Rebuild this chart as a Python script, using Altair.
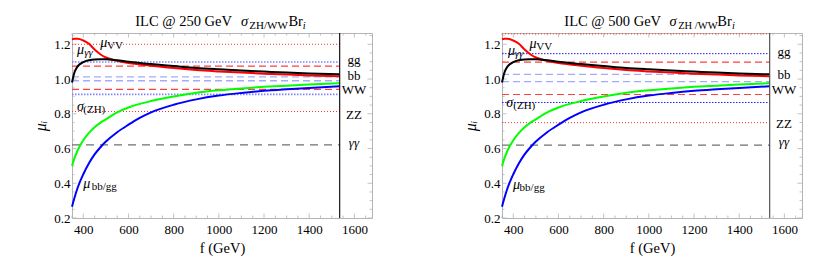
import altair as alt
import pandas as pd

# ---------------- data ----------------
F = [350, 360, 375, 400, 425, 450, 475, 500, 550, 600, 650, 700, 800, 900,
     1000, 1100, 1200, 1300, 1400, 1535]
MU_VV = [1.228, 1.232, 1.232, 1.222, 1.203, 1.170, 1.143, 1.124, 1.105, 1.092,
         1.084, 1.077, 1.063, 1.052, 1.044, 1.037, 1.031, 1.026, 1.021, 1.016]
MU_GAGA = [0.980, 1.035, 1.073, 1.097, 1.108, 1.113, 1.114, 1.114, 1.108, 1.099,
           1.092, 1.086, 1.075, 1.064, 1.056, 1.049, 1.043, 1.037, 1.032, 1.027]
SIGMA_ZH = [0.500, 0.540, 0.590, 0.648, 0.690, 0.723, 0.748, 0.768, 0.808, 0.836,
            0.857, 0.873, 0.899, 0.921, 0.935, 0.946, 0.955, 0.962, 0.968, 0.976]
MU_BBGG = [0.265, 0.312, 0.374, 0.452, 0.515, 0.566, 0.606, 0.640, 0.694, 0.737,
           0.776, 0.808, 0.852, 0.883, 0.905, 0.920, 0.932, 0.941, 0.949, 0.958]
SERIES = ["muVV", "mugaga", "sigmaZH", "mubbgg"]
SERIES_COLORS = ["#ff0000", "#000000", "#00ff00", "#0000ff"]

X_DOMAIN = [350, 1678]
Y_DOMAIN = [0.2, 1.265]
F_CUT = 1535
X_TICKS = [400, 600, 800, 1000, 1200, 1400, 1600]
Y_TICKS = [0.2, 0.4, 0.6, 0.8, 1.0, 1.2]

# horizontal band lines
H_KINDS = ["ZZ", "gg", "WW", "bb", "bb", "WW", "gg", "ZZ", "gaga"]
H250 = [1.200, 1.098, 1.074, 1.012, 0.990, 0.940, 0.912, 0.813, 0.621]
H500 = [1.260, 1.146, 1.097, 1.027, 0.985, 0.911, 0.865, 0.749, 0.620]

CH_LABELS = ["gg", "bb", "WW", "ZZ"]
CH_Y250 = [1.111, 1.020, 0.935, 0.792]
CH_Y500 = [1.155, 1.022, 0.937, 0.744]
GAGA_LABEL = "γγ"
GAGA_Y250 = 0.630
GAGA_Y500 = 0.636
CH_X = 1598

# annotation pieces: text, f, mu, size, italic
ANN250 = [("μ", 475, 1.186, 14, True), ("VV", 505, 1.174, 11, False),
          ("μ", 372, 1.146, 14, True), ("γγ", 404, 1.132, 11, True),
          ("σ", 372, 0.818, 14, True), ("(ZH)", 400, 0.806, 11, False),
          ("μ", 400, 0.370, 14, True), ("bb/gg", 437, 0.361, 11, False)]
ANN500 = [("μ", 472, 1.177, 14, True), ("VV", 502, 1.166, 11, False),
          ("μ", 377, 1.137, 14, True), ("γγ", 406, 1.124, 11, True),
          ("σ", 369, 0.838, 14, True), ("(ZH)", 400, 0.826, 11, False),
          ("μ", 399, 0.367, 14, True), ("bb/gg", 428, 0.358, 11, False)]
TITLE250 = [("ILC @ 250 GeV", 630, 1.303, 14.5, False), ("σ", 1098, 1.303, 14.5, True),
            ("ZH/WW", 1135, 1.289, 11, False), ("Br", 1308, 1.303, 14.5, False),
            ("i", 1372, 1.289, 10.5, True)]
TITLE500 = [("ILC @ 500 GeV", 626, 1.303, 14.5, False), ("σ", 1091, 1.303, 14.5, True),
            ("ZH /WW", 1130, 1.289, 10.5, False), ("Br", 1303, 1.303, 14.5, False),
            ("i", 1368, 1.289, 10.5, True)]

# ---------------- styling ----------------
W, H = 300, 185
FONT = "Liberation Serif"
FRAME = "#b4b4b4"

XS = alt.Scale(domain=X_DOMAIN, nice=False, zero=False)
YS = alt.Scale(domain=Y_DOMAIN, nice=False, zero=False)
X_AXIS = alt.Axis(values=X_TICKS, format="d", grid=False, domain=False, ticks=False,
                  labelFont=FONT, labelFontSize=13, labelColor="black", labelPadding=5,
                  titleFont=FONT, titleFontSize=14.5, titleFontWeight="normal",
                  titleColor="black", titlePadding=5)
Y_AXIS = alt.Axis(values=Y_TICKS, format=".1f", grid=False, domain=False, ticks=False,
                  labelFont=FONT, labelFontSize=13, labelColor="black", labelPadding=2,
                  titleFont=FONT, titleFontSize=16, titleFontWeight="normal",
                  titleFontStyle="italic", titleColor="black", titlePadding=5)


def X(field):
    return alt.X(field, type="quantitative", scale=XS, axis=X_AXIS, title="f (GeV)")


def Y(field):
    return alt.Y(field, type="quantitative", scale=YS, axis=Y_AXIS, title="μᵢ")


def styles(panel):
    blue_dot = "#7f85ff" if panel == 250 else "#1a1aff"
    blue_dot_w = 1.7 if panel == 250 else 1.0
    return {
        "ZZ": dict(color="#ff3030", strokeDash=[1, 2], strokeWidth=1.0),
        "gg": dict(color=blue_dot, strokeDash=[1.5, 1.5], strokeWidth=blue_dot_w),
        "WW": dict(color="#ff4040", strokeDash=[7, 4], strokeWidth=1.2),
        "bb": dict(color="#a4aaff", strokeDash=[7, 4], strokeWidth=1.3),
        "gaga": dict(color="#707070", strokeDash=[8, 6], strokeWidth=1.2),
    }


def text_layers(pieces):
    df = pd.DataFrame(pieces, columns=["t", "f", "v", "s", "it"])
    out = []
    for it, style in [(True, "italic"), (False, "normal")]:
        sub = df[df["it"] == it]
        if len(sub) == 0:
            continue
        out.append(alt.Chart(sub).mark_text(font=FONT, fontStyle=style, align="left",
                                            baseline="alphabetic", color="black").encode(
            x=X("f"), y=Y("v"), text="t:N", size=alt.Size("s:Q", scale=None, legend=None)))
    return out


def panel(which):
    hvals = H250 if which == 250 else H500
    ch_y = CH_Y250 if which == 250 else CH_Y500
    gaga_y = GAGA_Y250 if which == 250 else GAGA_Y500
    ann = ANN250 if which == 250 else ANN500
    title = TITLE250 if which == 250 else TITLE500

    layers = []
    cdf = pd.DataFrame({"f": F * 4,
                        "mu": MU_VV + MU_GAGA + SIGMA_ZH + MU_BBGG,
                        "s": sum([[s] * len(F) for s in SERIES], [])})
    curves = alt.Chart(cdf).mark_line(strokeWidth=2, interpolate="monotone").encode(
        x=X("f"), y=Y("mu"),
        color=alt.Color("s:N", scale=alt.Scale(domain=SERIES, range=SERIES_COLORS), legend=None),
        detail="s:N")

    # frame ticks (inward)
    xt_major = pd.DataFrame({"t": X_TICKS})
    xt_minor = pd.DataFrame({"t": [v for v in range(350, 1700, 50) if v not in X_TICKS]})
    yt_major = pd.DataFrame({"t": Y_TICKS})
    yt_minor = pd.DataFrame({"t": [round(0.25 + 0.05 * k, 2) for k in range(21)
                                   if round(0.25 + 0.05 * k, 2) not in Y_TICKS]})
    for d, L in [(xt_major, 4.5), (xt_minor, 2.5)]:
        layers.append(alt.Chart(d).mark_rule(color=FRAME, strokeWidth=0.8).encode(
            x=X("t"), y=alt.value(H), y2=alt.value(H - L)))
        layers.append(alt.Chart(d).mark_rule(color=FRAME, strokeWidth=0.8).encode(
            x=X("t"), y=alt.value(0), y2=alt.value(L)))
    for d, L in [(yt_major, 4.5), (yt_minor, 2.5)]:
        layers.append(alt.Chart(d).mark_rule(color=FRAME, strokeWidth=0.8).encode(
            y=Y("t"), x=alt.value(0), x2=alt.value(L)))
        layers.append(alt.Chart(d).mark_rule(color=FRAME, strokeWidth=0.8).encode(
            y=Y("t"), x=alt.value(W), x2=alt.value(W - L)))

    # horizontal band lines
    hdf = pd.DataFrame({"v": hvals, "k": H_KINDS, "x0": X_DOMAIN[0], "x1": F_CUT})
    for kind, st in styles(which).items():
        sub = hdf[hdf["k"] == kind]
        layers.append(alt.Chart(sub).mark_rule(**st).encode(
            x=X("x0"), x2="x1", y=Y("v")))

    layers.append(curves)

    # vertical separator
    vdf = pd.DataFrame({"f": [F_CUT]})
    layers.append(alt.Chart(vdf).mark_rule(color="#000000" if which == 250 else "#444444",
                                           strokeWidth=1.1).encode(x=X("f")))

    # channel labels
    ldf = pd.DataFrame({"t": CH_LABELS, "f": CH_X, "v": ch_y})
    layers.append(alt.Chart(ldf).mark_text(font=FONT, fontSize=13, align="center",
                                           baseline="middle", color="black").encode(
        x=X("f"), y=Y("v"), text="t:N"))
    gdf = pd.DataFrame({"t": [GAGA_LABEL], "f": [CH_X], "v": [gaga_y]})
    layers.append(alt.Chart(gdf).mark_text(font=FONT, fontSize=13, fontStyle="italic",
                                           align="center", baseline="middle",
                                           color="black").encode(
        x=X("f"), y=Y("v"), text="t:N"))

    layers += text_layers(ann)
    layers += text_layers(title)
    return alt.layer(*layers).properties(width=W, height=H)


chart = alt.hconcat(panel(250), panel(500), spacing=89).properties(
    padding={"left": 24, "top": 5, "right": 5, "bottom": 5}
).configure(font=FONT).configure_view(stroke=FRAME, strokeWidth=1).configure_axis(
    labelFont=FONT, titleFont=FONT, labelFontSize=13, titleFontWeight="normal"
).configure_text(font=FONT)

chart.save("out.html", embed_options={"renderer": "svg", "actions": False})
